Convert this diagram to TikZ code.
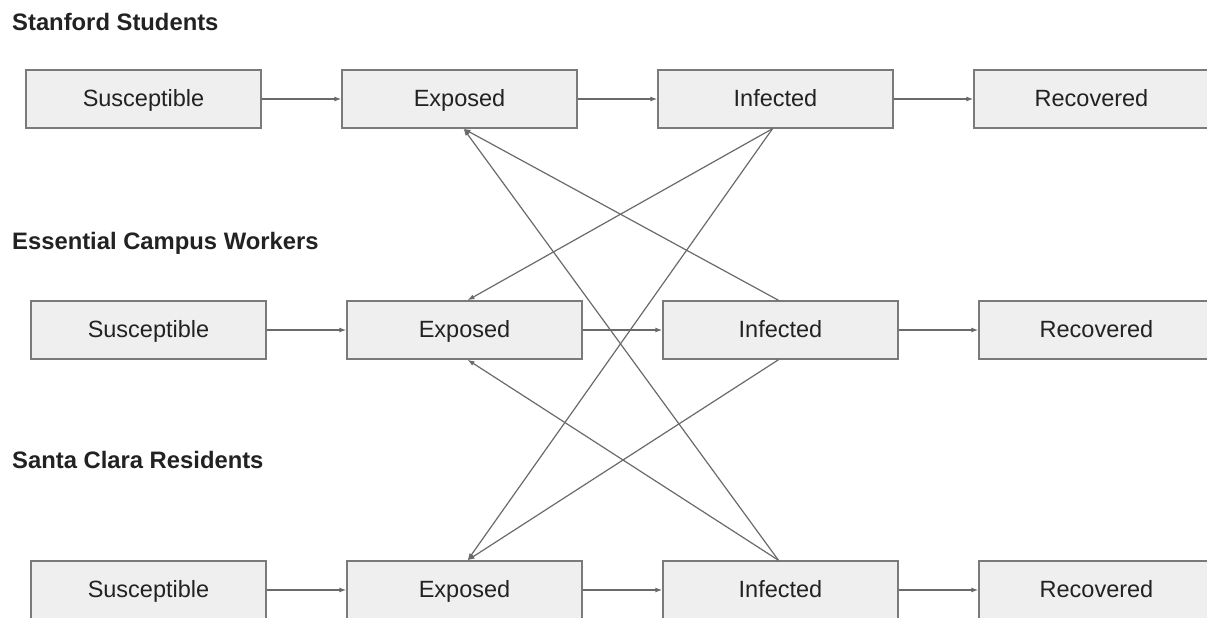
\documentclass[tikz,border=0pt]{standalone}
\usepackage{fontspec}
\setmainfont{Liberation Sans}
\usetikzlibrary{arrows.meta, positioning}

\definecolor{boxfill}{HTML}{EFEFEF}
\definecolor{boxline}{HTML}{7A7A7A}
\definecolor{linkline}{HTML}{6A6A6A}
\definecolor{inktext}{HTML}{222222}

\begin{document}
\begin{tikzpicture}[x=1pt, y=-1pt, node distance=79.6pt,
    compartment/.style={draw=boxline, line width=1.4pt, fill=boxfill, text=inktext,
        minimum width=235pt, minimum height=58pt, inner sep=0pt,
        text height=17pt, text depth=3pt,
        font=\fontsize{23.5}{28}\selectfont},
    group/.style={anchor=base west, inner sep=0pt, text=inktext,
        font=\fontsize{23.8}{28}\selectfont\bfseries},
    flow/.style={draw=linkline, line width=1.2pt, arrows={-Latex[length=7pt, width=5pt]}}]
    \useasboundingbox (0,0) rectangle (1207,618);

    % Group titles
    \node[group] (students title) at (12,31) {Stanford Students};
    \node[group] (workers title) at (12,249) {Essential Campus Workers};
    \node[group] (residents title) at (12,468) {Santa Clara Residents};

    % Nodes
    \node[compartment] (students sus) at (143.5,99) {Susceptible};
    \node[compartment, right=of students sus] (students exp) {Exposed};
    \node[compartment, right=of students exp] (students inf) {Infected};
    \node[compartment, right=of students inf] (students rec) {Recovered};

    \node[compartment] (workers sus) at (148.5,330) {Susceptible};
    \node[compartment, right=of workers sus] (workers exp) {Exposed};
    \node[compartment, right=of workers exp] (workers inf) {Infected};
    \node[compartment, right=of workers inf] (workers rec) {Recovered};

    \node[compartment] (residents sus) at (148.5,590) {Susceptible};
    \node[compartment, right=of residents sus] (residents exp) {Exposed};
    \node[compartment, right=of residents exp] (residents inf) {Infected};
    \node[compartment, right=of residents inf] (residents rec) {Recovered};

    % Connections within each group
    \foreach \grp in {students, workers, residents} {
        \draw[flow] (\grp\space sus) -- (\grp\space exp);
        \draw[flow] (\grp\space exp) -- (\grp\space inf);
        \draw[flow] (\grp\space inf) -- (\grp\space rec);
    }

    % Connections between groups
    \draw[flow] ([xshift=-3pt]students inf.south) -- ([xshift=3pt]workers exp.north);
    \draw[flow] ([xshift=-3pt]students inf.south) -- ([xshift=3pt]residents exp.north);
    \draw[flow] ([xshift=-2pt]workers inf.north) -- ([xshift=4pt]students exp.south);
    \draw[flow] ([xshift=-2pt]workers inf.south) -- ([xshift=3pt]residents exp.north);
    \draw[flow] ([xshift=-2pt]residents inf.north) -- ([xshift=4pt]students exp.south);
    \draw[flow] ([xshift=-2pt]residents inf.north) -- ([xshift=3pt]workers exp.south);
\end{tikzpicture}
\end{document}
